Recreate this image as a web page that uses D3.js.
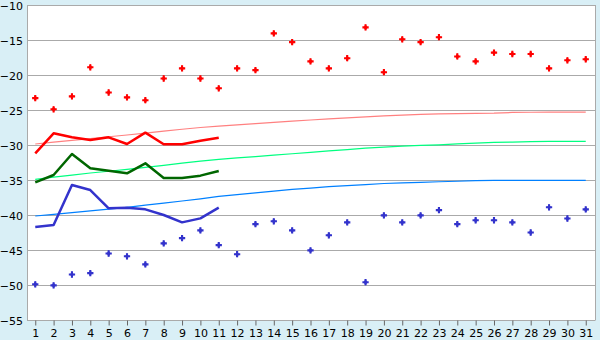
<!DOCTYPE html>
<html><head><meta charset="utf-8">
<script src="https://cdn.jsdelivr.net/npm/d3@7"></script>
<style>
html,body{margin:0;padding:0;background:#d9eff6;}
svg{display:block;}
text{font-family:"DejaVu Sans",Verdana,sans-serif;font-size:11px;fill:#000;}
</style></head>
<body>
<svg id="c" width="600" height="340"></svg>
<script>
const days = d3.range(1, 32);
const yTicks = [-10, -15, -20, -25, -30, -35, -40, -45, -50, -55];

const redPoints = [-23.3,-24.9,-23.05,-18.9,-22.5,-23.2,-23.6,-20.5,-19.05,-20.5,-21.9,-19.05,-19.3,-14.05,-15.3,-18.05,-19.05,-17.6,-13.2,-19.6,-14.9,-15.3,-14.6,-17.35,-18.05,-16.8,-17.0,-17.0,-19.05,-17.9,-17.75];
const bluePoints = [-49.9,-50.05,-48.5,-48.3,-45.5,-45.9,-47.05,-44.05,-43.3,-42.2,-44.3,-45.6,-41.3,-40.9,-42.2,-45.05,-42.9,-41.05,-49.6,-40.05,-41.05,-40.05,-39.3,-41.3,-40.75,-40.75,-41.05,-42.5,-38.9,-40.5,-39.2];

const redLine = [-31.2,-28.33,-28.9,-29.29,-28.9,-29.86,-28.24,-29.9,-29.9,-29.38,-28.95];
const greenLine = [-35.33,-34.29,-31.29,-33.33,-33.67,-34.05,-32.62,-34.71,-34.7,-34.38,-33.71];
const blueLine = [-41.7,-41.43,-35.71,-36.43,-39.05,-38.95,-39.19,-40.0,-41.05,-40.48,-38.95];

const redTrend = [-29.86,-29.6,-29.34,-29.08,-28.82,-28.57,-28.3,-28.02,-27.75,-27.5,-27.3,-27.12,-26.94,-26.77,-26.6,-26.43,-26.27,-26.12,-25.98,-25.85,-25.73,-25.62,-25.56,-25.52,-25.48,-25.45,-25.35,-25.32,-25.3,-25.3,-25.3];
const greenTrend = [-34.9,-34.6,-34.3,-34.0,-33.75,-33.47,-33.2,-32.9,-32.6,-32.3,-32.05,-31.85,-31.65,-31.45,-31.25,-31.05,-30.85,-30.65,-30.45,-30.3,-30.15,-30.05,-29.97,-29.85,-29.72,-29.62,-29.58,-29.52,-29.47,-29.47,-29.47];
const blueTrend = [-40.14,-39.9,-39.65,-39.4,-39.15,-38.9,-38.6,-38.3,-38.0,-37.7,-37.35,-37.1,-36.85,-36.6,-36.35,-36.15,-35.95,-35.8,-35.65,-35.5,-35.4,-35.33,-35.25,-35.18,-35.1,-35.05,-35.05,-35.05,-35.05,-35.05,-35.05];

const L = 27, R = 595, T = 5, B = 320;
const svg = d3.select("#c");
const x = d3.scalePoint().domain(days).range([L, R - 1]).padding(0.45);
const y = d3.scaleLinear().domain([-55, -10]).range([B, T]);

svg.append("rect").attr("x", L).attr("y", T).attr("width", R - L).attr("height", B - T).attr("fill", "#fff");

// gridlines
svg.append("g").selectAll("line").data(yTicks).join("line")
  .attr("x1", L).attr("x2", R)
  .attr("y1", d => y(d) + 0.5).attr("y2", d => y(d) + 0.5)
  .attr("stroke", "#aaaaaa").attr("stroke-width", 1);

// frame: left and right
svg.append("line").attr("x1", L + 0.5).attr("x2", L + 0.5).attr("y1", T).attr("y2", B).attr("stroke", "#aaaaaa");
svg.append("line").attr("x1", R + 0.5).attr("x2", R + 0.5).attr("y1", T).attr("y2", B + 0.5).attr("stroke", "#aaaaaa");

// y axis labels
const yAxis = d3.axisLeft(y).tickValues(yTicks).tickSize(0).tickPadding(4).tickFormat(d3.format("d"));
const ga = svg.append("g").attr("transform", `translate(${L},0.5)`).call(yAxis);
ga.select(".domain").remove();
ga.selectAll("text").style("font-family", "DejaVu Sans, Verdana, sans-serif").style("font-size", "11px").attr("fill", "#000");

// x axis
const xAxis = d3.axisBottom(x).tickSize(5).tickPadding(4);
const gx = svg.append("g").attr("transform", `translate(0,${B + 0.5})`).call(xAxis);
gx.select(".domain").attr("stroke", "#aaaaaa").attr("d", `M${L},0H${R}`);
gx.selectAll(".tick line").attr("stroke", "#666");
gx.selectAll("text").style("font-family", "DejaVu Sans, Verdana, sans-serif").style("font-size", "11px").attr("fill", "#000");

const line = d3.line().x((d, i) => x(days[i])).y(d => y(d));

function drawLine(data, color, w) {
  svg.append("path").datum(data).attr("d", line).attr("fill", "none")
    .attr("stroke", color).attr("stroke-width", w).attr("stroke-linejoin", "round");
}
drawLine(redTrend, "#ff8080", 1.2);
drawLine(greenTrend, "#00ff80", 1.2);
drawLine(blueTrend, "#0080ff", 1.2);
drawLine(redLine, "#ff0000", 2.5);
drawLine(greenLine, "#006600", 2.5);
drawLine(blueLine, "#3333cc", 2.5);

const sym = d3.symbol().type(d3.symbolCross).size(22);
const dia = d3.symbol().type(d3.symbolDiamond).size(12);
function drawPts(data, color) {
  const g = svg.append("g").selectAll("g").data(data).join("g")
    .attr("transform", (d, i) => `translate(${x(days[i])},${y(d)})`);
  g.append("path").attr("d", sym).attr("fill", color);
  g.append("path").attr("d", dia).attr("fill", color);
}
drawPts(redPoints, "#ff0000");
drawPts(bluePoints, "#3333cc");
</script>
</body></html>
